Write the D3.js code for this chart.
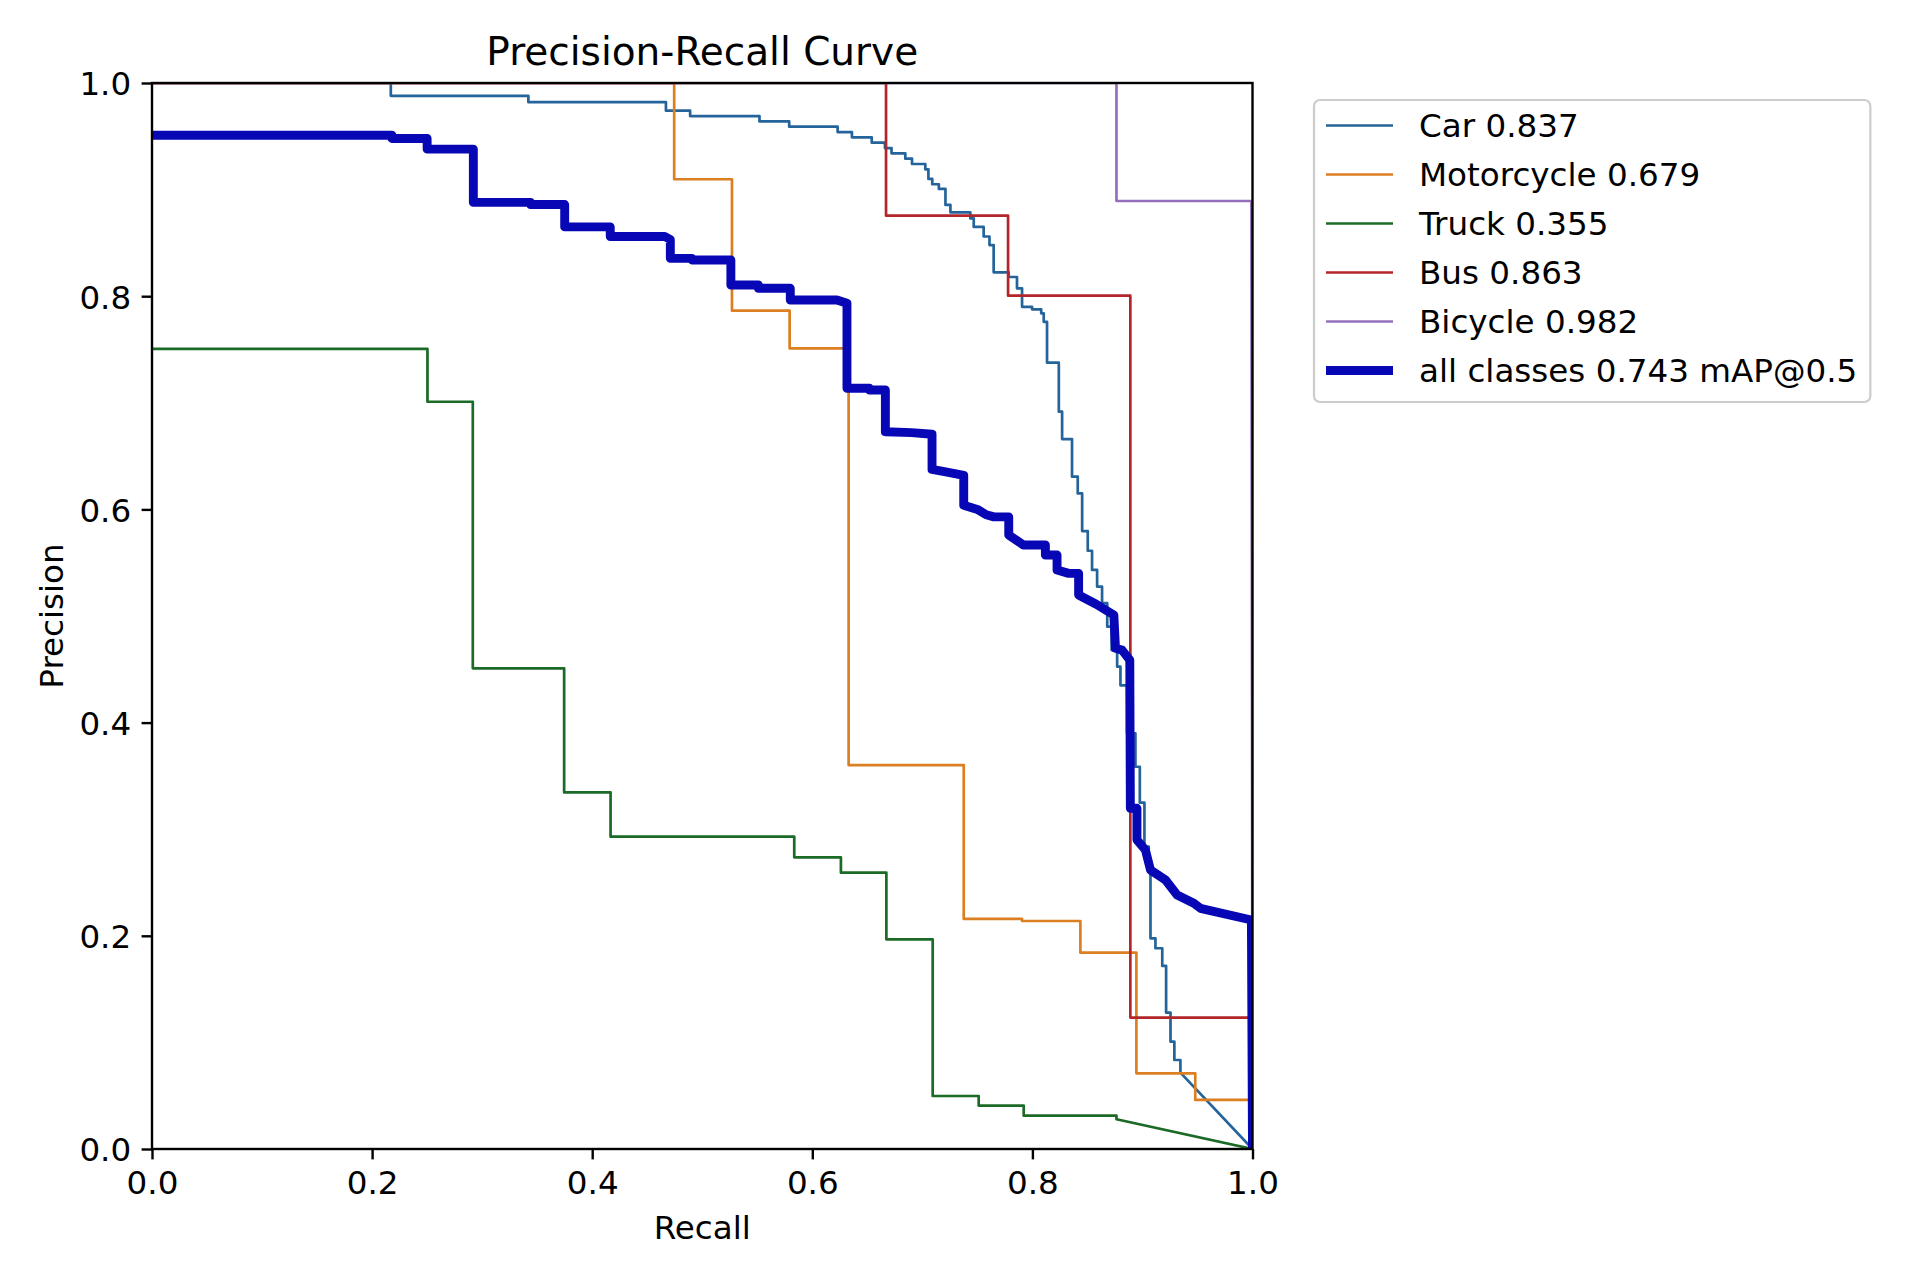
<!DOCTYPE html>
<html><head><meta charset="utf-8">
<script src="https://cdn.jsdelivr.net/npm/d3@7"></script>
<style>
body{margin:0;background:#fff}
svg{display:block;font-family:"DejaVu Sans",sans-serif}
</style>
</head><body>
<svg id="chart" width="1920" height="1280"></svg>
<script>
// ---------------- data ----------------
const chartTitle = "Precision-Recall Curve";
const xLabel = "Recall";
const yLabel = "Precision";
const xTicks = [0.0, 0.2, 0.4, 0.6, 0.8, 1.0];
const yTicks = [0.0, 0.2, 0.4, 0.6, 0.8, 1.0];
const classNames = ["Car", "Motorcycle", "Truck", "Bus", "Bicycle"];
const classAP = [0.837, 0.679, 0.355, 0.863, 0.982];
const allLabel = "all classes";
const allMAP = 0.743;

// [recall, precision] vertices
const carPR = [[0,1],[0.217,1],[0.217,0.988],[0.342,0.988],[0.342,0.982],[0.467,0.982],[0.467,0.974],[0.489,0.974],[0.489,0.969],[0.552,0.969],[0.552,0.964],[0.579,0.964],[0.579,0.959],[0.623,0.959],[0.623,0.954],[0.636,0.954],[0.636,0.949],[0.654,0.949],[0.654,0.944],[0.666,0.944],[0.666,0.939],[0.672,0.939],[0.672,0.934],[0.6845,0.934],[0.6845,0.929],[0.6906,0.929],[0.6906,0.924],[0.7027,0.924],[0.7027,0.919],[0.7055,0.919],[0.7055,0.910],[0.709,0.910],[0.709,0.905],[0.715,0.905],[0.715,0.9006],[0.721,0.9006],[0.721,0.8856],[0.7255,0.8856],[0.7255,0.8787],[0.7436,0.8787],[0.7436,0.873],[0.7467,0.873],[0.7467,0.865],[0.7557,0.865],[0.7557,0.856],[0.761,0.856],[0.761,0.848],[0.7648,0.848],[0.7648,0.8224],[0.7785,0.8224],[0.7785,0.818],[0.786,0.818],[0.786,0.8074],[0.7906,0.8074],[0.7906,0.790],[0.7997,0.790],[0.7997,0.7877],[0.808,0.7877],[0.808,0.7839],[0.8103,0.7839],[0.8103,0.776],[0.8133,0.776],[0.8133,0.7376],[0.824,0.7376],[0.824,0.6917],[0.827,0.6917],[0.827,0.666],[0.836,0.666],[0.836,0.6307],[0.8412,0.6307],[0.8412,0.615],[0.8452,0.615],[0.8452,0.5797],[0.8503,0.5797],[0.8503,0.5612],[0.8542,0.5612],[0.8542,0.5432],[0.8588,0.5432],[0.8588,0.5275],[0.8633,0.5275],[0.8633,0.512],[0.868,0.512],[0.868,0.49],[0.872,0.49],[0.872,0.468],[0.877,0.468],[0.877,0.4525],[0.880,0.4525],[0.880,0.435],[0.886,0.435],[0.886,0.39],[0.8936,0.39],[0.8936,0.3586],[0.8976,0.3586],[0.8976,0.3249],[0.9018,0.3249],[0.9018,0.2836],[0.9057,0.2836],[0.9057,0.26],[0.9073,0.26],[0.9073,0.1976],[0.9118,0.1976],[0.9118,0.1883],[0.918,0.1883],[0.918,0.1717],[0.9215,0.1717],[0.9215,0.1279],[0.9255,0.1279],[0.9255,0.1007],[0.929,0.1007],[0.929,0.0835],[0.9345,0.0835],[0.9345,0.0716],[1.0,0]];
const motorcyclePR = [[0,1],[0.4745,1],[0.4745,0.9097],[0.527,0.9097],[0.527,0.7864],[0.5794,0.7864],[0.5794,0.751],[0.633,0.751],[0.633,0.3602],[0.7376,0.3602],[0.7376,0.2158],[0.7906,0.2158],[0.7906,0.2139],[0.8436,0.2139],[0.8436,0.1842],[0.8945,0.1842],[0.8945,0.071],[0.948,0.071],[0.948,0.046],[0.999,0.046],[1.0,0]];
const truckPR = [[0,0.7505],[0.2503,0.7505],[0.2503,0.701],[0.2915,0.701],[0.2915,0.4509],[0.3745,0.4509],[0.3745,0.3345],[0.4167,0.3345],[0.4167,0.293],[0.5836,0.293],[0.5836,0.2736],[0.626,0.2736],[0.626,0.2592],[0.6673,0.2592],[0.6673,0.1967],[0.7094,0.1967],[0.7094,0.0497],[0.7512,0.0497],[0.7512,0.0407],[0.7921,0.0407],[0.7921,0.0313],[0.8764,0.0313],[0.8764,0.0279],[1.0,0]];
const busPR = [[0,1],[0.667,1],[0.667,0.8755],[0.7779,0.8755],[0.7779,0.8005],[0.889,0.8005],[0.889,0.1233],[0.999,0.1233],[1.0,0]];
const bicyclePR = [[0,1],[0.8764,1],[0.8764,0.8893],[0.999,0.8893],[1.0,0]];
const allClassesPR = [[0,0.951],[0.218,0.951],[0.218,0.948],[0.25,0.948],[0.25,0.938],[0.292,0.938],[0.292,0.888],[0.344,0.888],[0.344,0.886],[0.375,0.886],[0.375,0.865],[0.4164,0.865],[0.4164,0.856],[0.466,0.856],[0.471,0.853],[0.471,0.8355],[0.4906,0.8355],[0.4906,0.834],[0.526,0.834],[0.526,0.8105],[0.551,0.8105],[0.551,0.8074],[0.58,0.8074],[0.58,0.7964],[0.6224,0.7964],[0.6315,0.7933],[0.6315,0.7136],[0.652,0.7136],[0.652,0.712],[0.6664,0.712],[0.6664,0.6729],[0.69,0.672],[0.7088,0.6705],[0.7088,0.6375],[0.72,0.6355],[0.7376,0.632],[0.7376,0.604],[0.7500,0.600],[0.758,0.595],[0.765,0.593],[0.7785,0.593],[0.7785,0.576],[0.7918,0.5666],[0.8118,0.5666],[0.8118,0.5572],[0.8224,0.5572],[0.8224,0.5432],[0.833,0.540],[0.842,0.540],[0.842,0.5197],[0.858,0.511],[0.874,0.501],[0.8755,0.4697],[0.8815,0.468],[0.8885,0.4587],[0.889,0.3196],[0.895,0.3196],[0.895,0.29],[0.9027,0.2805],[0.9073,0.2617],[0.921,0.2523],[0.9315,0.2383],[0.9467,0.2305],[0.9527,0.2258],[0.999,0.2148],[1.0,0]];
const classCurves = [carPR, motorcyclePR, truckPR, busPR, bicyclePR];

// ---------------- styles / layout ----------------
const classColors = ["#24649a", "#dc7f22", "#1b6a26", "#b2262a", "#9470bc"];
const allColor = "#0707b6";
const fs = 32.6, titleFs = 39;
const plot = {left: 152, right: 1252.5, top: 83, bottom: 1149};

const svg = d3.select("#chart");
const x = d3.scaleLinear().domain([0, 1]).range([plot.left, plot.right]);
const y = d3.scaleLinear().domain([0, 1]).range([plot.bottom, plot.top]);

svg.append("defs").append("clipPath").attr("id", "plotclip")
  .append("rect").attr("x", plot.left).attr("y", plot.top)
  .attr("width", plot.right - plot.left).attr("height", plot.bottom - plot.top);

const line = d3.line().x(d => x(d[0])).y(d => y(d[1]));
const g = svg.append("g").attr("clip-path", "url(#plotclip)");
classCurves.forEach((c, i) => {
  g.append("path").attr("d", line(c)).attr("fill", "none")
    .attr("stroke", classColors[i]).attr("stroke-width", 2.7)
    .attr("stroke-linejoin", "round").attr("stroke-linecap", "square");
});
g.append("path").attr("d", line(allClassesPR)).attr("fill", "none")
  .attr("stroke", allColor).attr("stroke-width", 8.9)
  .attr("stroke-linejoin", "round").attr("stroke-linecap", "square");

// axes
const xAxis = d3.axisBottom(x).tickValues(xTicks).tickFormat(d3.format(".1f")).tickSize(10.4).tickPadding(10.4);
const yAxis = d3.axisLeft(y).tickValues(yTicks).tickFormat(d3.format(".1f")).tickSize(10.4).tickPadding(10.4);
const gx = svg.append("g").attr("transform", `translate(0,${plot.bottom})`).call(xAxis);
const gy = svg.append("g").attr("transform", `translate(${plot.left},0)`).call(yAxis);
[gx, gy].forEach(a => {
  a.select(".domain").remove();
  a.selectAll(".tick line").attr("stroke", "#000").attr("stroke-width", 2.4);
  a.selectAll(".tick text").attr("fill", "#000").attr("font-size", fs)
    .attr("font-family", "DejaVu Sans");
});
gx.selectAll(".tick text").attr("dy", null).attr("y", 44.6);
gy.selectAll(".tick text").attr("dy", null).attr("y", 11.9);

// spines
svg.append("rect").attr("x", plot.left).attr("y", plot.top)
  .attr("width", plot.right - plot.left).attr("height", plot.bottom - plot.top)
  .attr("fill", "none").attr("stroke", "#000").attr("stroke-width", 2.4);

// title & labels
svg.append("text").attr("x", (plot.left + plot.right) / 2).attr("y", 65)
  .attr("text-anchor", "middle").attr("font-size", titleFs).text(chartTitle);
svg.append("text").attr("x", (plot.left + plot.right) / 2).attr("y", 1239)
  .attr("text-anchor", "middle").attr("font-size", fs).text(xLabel);
svg.append("text").attr("transform", `translate(63,${(plot.top + plot.bottom) / 2}) rotate(-90)`)
  .attr("text-anchor", "middle").attr("font-size", fs).text(yLabel);

// legend
const legendItems = classNames.map((n, i) => ({label: `${n} ${classAP[i].toFixed(3)}`, color: classColors[i], w: 2.7}))
  .concat([{label: `${allLabel} ${allMAP.toFixed(3)} mAP@0.5`, color: allColor, w: 8.9}]);
const lg = svg.append("g");
const lx = 1314, ly = 100, hx0 = 1326, hx1 = 1393, tx = 1419, rowPitch = 49, firstBase = 137, padR = 13, frameH = 302;
const frame = lg.append("rect").attr("x", lx).attr("y", ly).attr("rx", 6).attr("ry", 6)
  .attr("fill", "#fff").attr("fill-opacity", 0.8).attr("stroke", "#cccccc").attr("stroke-width", 2.2);
let maxW = 0;
legendItems.forEach((it, i) => {
  const base = firstBase + i * rowPitch;
  lg.append("line").attr("x1", hx0).attr("x2", hx1)
    .attr("y1", base - 11.5).attr("y2", base - 11.5)
    .attr("stroke", it.color).attr("stroke-width", it.w);
  const t = lg.append("text").attr("x", tx).attr("y", base)
    .attr("font-size", fs).text(it.label);
  maxW = Math.max(maxW, t.node().getComputedTextLength());
});
frame.attr("width", tx - lx + maxW + padR).attr("height", frameH);
</script>
</body></html>
